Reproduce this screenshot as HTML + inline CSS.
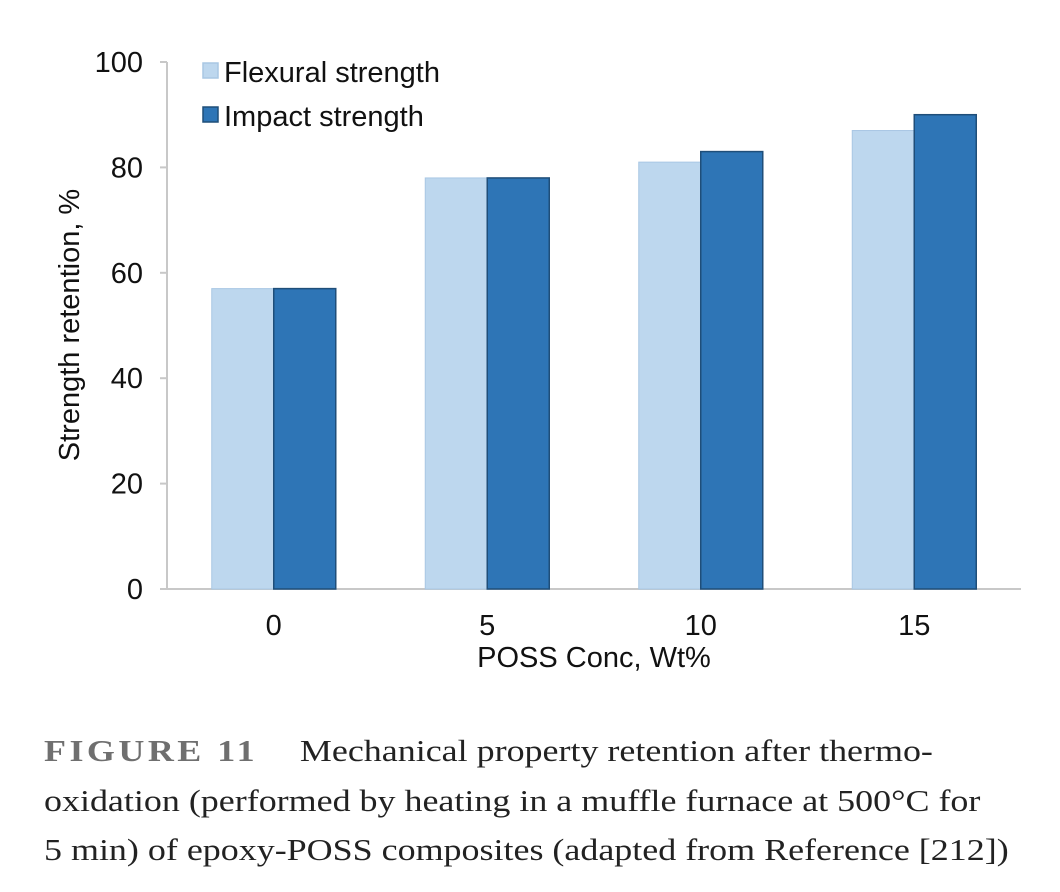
<!DOCTYPE html>
<html><head><meta charset="utf-8"><style>
body{margin:0;background:#fff;width:1060px;height:892px;overflow:hidden;position:relative}
svg{position:absolute;left:0;top:0}
.cap{position:absolute;left:44px;top:726px;width:1010px;font-family:"Liberation Serif",serif;font-size:31px;line-height:49.5px;color:#222;white-space:nowrap;transform:scaleX(1.16);transform-origin:0 0}
.fig{font-weight:bold;color:#6f6f6f;letter-spacing:3px;margin-right:36px}
</style></head><body>
<svg width="1060" height="720" font-family="Liberation Sans, sans-serif">
<g id="plot"></g>
</svg>
<div class="cap"><span class="fig">FIGURE 11</span>Mechanical property retention after thermo-<br>oxidation (performed by heating in a muffle furnace at 500°C for<br>5 min) of epoxy-POSS composites (adapted from Reference [212])</div>
<script>
const categories=["0","5","10","15"];
const flexural=[57,78,81,87];
const impact=[57,78,83,90];
const yTicks=[0,20,40,60,80,100];
const NS="http://www.w3.org/2000/svg";
const g=document.getElementById('plot');
const x0=167,x1=1021,yb=589,yt=62;
const FS=29;
const y=v=>yb-(v/100)*(yb-yt);
const band=(x1-x0)/categories.length;
const cx=i=>x0+band*(i+0.5);
function el(t,a){const e=document.createElementNS(NS,t);for(const k in a)e.setAttribute(k,a[k]);g.appendChild(e);return e;}
let ax=el('line',{x1:x0,y1:yt,x2:x0,y2:yb,stroke:'#c8c8c8','stroke-width':2});


let bx=el('line',{x1:x0-7,y1:yb,x2:x1,y2:yb,stroke:'#c8c8c8','stroke-width':2});


yTicks.forEach(v=>{
 let t=el('line',{x1:x0-7,y1:y(v),x2:x0,y2:y(v),stroke:'#c8c8c8','stroke-width':2});
 
 
 let l=el('text',{x:143,y:y(v)+10,'text-anchor':'end','font-size':FS,fill:'#111'});l.textContent=v;
 
 
});
const bw=62;
categories.forEach((c,i)=>{
 let b1=el('rect',{x:cx(i)-bw,y:y(flexural[i]),width:bw,height:yb-y(flexural[i]),fill:'#bdd7ee',stroke:'#a9c7e4','stroke-width':1});
 
 
 let b2=el('rect',{x:cx(i),y:y(impact[i]),width:bw,height:yb-y(impact[i]),fill:'#2e75b6',stroke:'#1f4e79','stroke-width':1.5});
 
 
 let l=el('text',{x:cx(i),y:635,'text-anchor':'middle','font-size':FS,fill:'#111'});l.textContent=c;
 
 
});
let xt=el('text',{x:594,y:667,'text-anchor':'middle','font-size':FS,fill:'#111'});xt.textContent='POSS Conc, Wt%';


let yl=el('text',{x:0,y:0,'text-anchor':'middle','font-size':FS,fill:'#111',transform:'translate(79,325) rotate(-90)'});yl.textContent='Strength retention, %';


[['Flexural strength','#bdd7ee','#a9c7e4',72],['Impact strength','#2e75b6','#1f4e79',116]].forEach(([n,f,s,yy])=>{
 let r=el('rect',{x:203,y:yy-9,width:15,height:15,fill:f,stroke:s,'stroke-width':1.5});
 
 
 let t=el('text',{x:224,y:yy+10,'font-size':FS,fill:'#111'});t.textContent=n;
 
 
});
</script>
</body></html>
